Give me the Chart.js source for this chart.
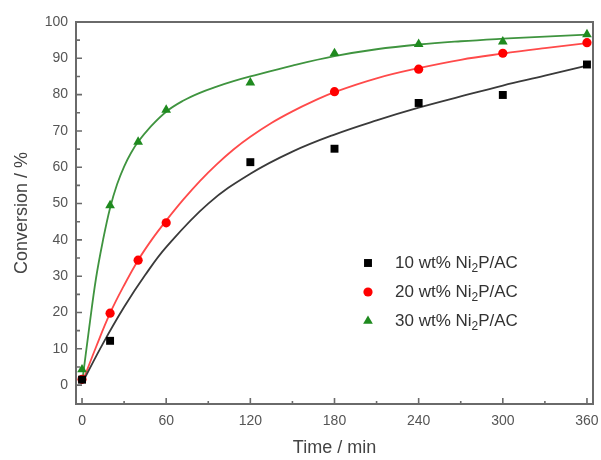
<!DOCTYPE html>
<html>
<head>
<meta charset="utf-8">
<script src="https://cdn.jsdelivr.net/npm/chart.js@4.4.1/dist/chart.umd.min.js"></script>
<style>
  html, body { margin: 0; padding: 0; background: #fff; }
  #wrap { width: 601px; height: 460px; }
</style>
</head>
<body>
<div id="wrap"><canvas id="conversionChart"></canvas></div>
<script>
// measured points (time in min, conversion in %)
const seriesLabels = ['10 wt% Ni₂P/AC', '20 wt% Ni₂P/AC', '30 wt% Ni₂P/AC'];
const t10 = [0, 20, 120, 180, 240, 300, 360];
const conv10 = [1.5, 12.2, 61.4, 65.1, 77.7, 79.9, 88.3];
const t20 = [0, 20, 40, 60, 180, 240, 300, 360];
const conv20 = [1.6, 19.8, 34.4, 44.7, 80.8, 87.0, 91.4, 94.3];
const t30 = [0, 20, 40, 60, 120, 180, 240, 300, 360];
const conv30 = [4.3, 49.5, 67.0, 75.8, 83.3, 91.4, 93.9, 94.6, 96.6];

// fitted curves
const fitT10 = [0, 15, 30, 45, 60, 90, 120, 150, 180, 210, 240, 270, 300, 330, 360];
const fit10 = [0.5, 11.5, 21.5, 30.3, 38, 50, 58.2, 64.3, 69, 72.9, 76.4, 79.5, 82.5, 85.2, 88];
const fitT20 = [0, 10, 20, 30, 40, 50, 60, 72, 84, 96, 108, 120, 135, 150, 165, 180, 210, 240, 270, 300, 330, 360];
const fit20 = [0.5, 10.5, 19.8, 27.5, 34.4, 40.2, 45.3, 51, 56.2, 60.8, 64.9, 68.4, 72.2, 75.4, 78.2, 80.7, 84.5, 87.3, 89.6, 91.3, 92.8, 94.2];
const fitT30 = [0, 5, 10, 15, 20, 25, 30, 35, 40, 48, 60, 72, 84, 96, 108, 120, 150, 180, 210, 240, 270, 300, 330, 360];
const fit30 = [0.5, 15.5, 29.5, 40, 48.8, 55.3, 60.2, 64, 67, 70.8, 75.3, 78.3, 80.5, 82.2, 83.7, 85, 88, 90.6, 92.5, 93.8, 94.7, 95.4, 96, 96.5];

const xTicks = [0, 60, 120, 180, 240, 300, 360];
const xMinorTicks = [30, 90, 150, 210, 270, 330];
const yTicks = [0, 10, 20, 30, 40, 50, 60, 70, 80, 90, 100];
const yMinorTicks = [5, 15, 25, 35, 45, 55, 65, 75, 85, 95];

const pointColors = ['#000000', '#ff0000', '#1f8a1f'];
const lineColors = ['#3a3a3a', '#ff4a4a', '#3f943f'];
const pointStyles = ['rect', 'circle', 'triangle'];
const pointSizes = [5.6, 4.6, 5.6];

const toXY = (xs, ys) => xs.map((x, i) => ({ x: x, y: ys[i] }));

const frameAndTicks = {
    id: 'frameAndTicks',
    beforeDatasetsDraw(chart) {
        const { ctx, chartArea: a, scales } = chart;
        ctx.save();
        ctx.strokeStyle = '#6a6a6a';
        ctx.lineWidth = 1.6;
        ctx.beginPath();
        xTicks.forEach(v => {
            const px = scales.x.getPixelForValue(v);
            ctx.moveTo(px, a.bottom); ctx.lineTo(px, a.bottom - 6);
        });
        xMinorTicks.forEach(v => {
            const px = scales.x.getPixelForValue(v);
            ctx.moveTo(px, a.bottom); ctx.lineTo(px, a.bottom - 3);
        });
        yTicks.forEach(v => {
            const py = scales.y.getPixelForValue(v);
            ctx.moveTo(a.left, py); ctx.lineTo(a.left + 6, py);
        });
        yMinorTicks.forEach(v => {
            const py = scales.y.getPixelForValue(v);
            ctx.moveTo(a.left, py); ctx.lineTo(a.left + 4, py);
        });
        ctx.stroke();
        ctx.lineWidth = 2;
        ctx.strokeRect(a.left, a.top, a.right - a.left, a.bottom - a.top);
        ctx.restore();
    }
};

function drawMarker(ctx, style, x, y, r, color) {
    ctx.fillStyle = color;
    ctx.beginPath();
    if (style === 'rect') {
        const s = r * Math.SQRT1_2;
        ctx.rect(x - s, y - s, 2 * s, 2 * s);
    } else if (style === 'circle') {
        ctx.arc(x, y, r, 0, Math.PI * 2);
    } else {
        const h = r * 1.5;
        const w = r * Math.sqrt(3) / 2;
        ctx.moveTo(x, y - r);
        ctx.lineTo(x + w, y + h - r);
        ctx.lineTo(x - w, y + h - r);
        ctx.closePath();
    }
    ctx.fill();
}

const insideLegend = {
    id: 'insideLegend',
    afterDraw(chart) {
        const { ctx, chartArea: a } = chart;
        const markerX = a.left + 292;
        const textX = a.left + 319;
        ctx.save();
        ctx.textBaseline = 'middle';
        seriesLabels.forEach((label, i) => {
            const y = a.top + 241 + i * 29;
            drawMarker(ctx, pointStyles[i], markerX, y, pointSizes[i], pointColors[i]);
            const parts = label.split('₂');
            ctx.fillStyle = '#333';
            ctx.font = '17px "Liberation Sans", Arial, sans-serif';
            ctx.fillText(parts[0], textX, y);
            let x = textX + ctx.measureText(parts[0]).width;
            ctx.font = '12px "Liberation Sans", Arial, sans-serif';
            ctx.fillText('2', x, y + 6);
            x += ctx.measureText('2').width;
            ctx.font = '17px "Liberation Sans", Arial, sans-serif';
            ctx.fillText(parts[1], x, y);
        });
        ctx.restore();
    }
};

Chart.defaults.font.family = '"Liberation Sans", Arial, sans-serif';
Chart.defaults.color = '#555';

const pointSets = [[t10, conv10], [t20, conv20], [t30, conv30]].map((d, i) => ({
    label: seriesLabels[i],
    data: toXY(d[0], d[1]),
    showLine: false,
    pointStyle: pointStyles[i],
    pointRadius: pointSizes[i],
    pointBackgroundColor: pointColors[i],
    pointBorderWidth: 0,
    borderColor: pointColors[i]
}));

const fitSets = [[fitT10, fit10], [fitT20, fit20], [fitT30, fit30]].map((d, i) => ({
    label: seriesLabels[i] + ' fit',
    data: toXY(d[0], d[1]),
    showLine: true,
    pointRadius: 0,
    borderColor: lineColors[i],
    borderWidth: 1.8,
    tension: 0.4
}));

new Chart(document.getElementById('conversionChart'), {
    type: 'scatter',
    data: { datasets: pointSets.concat(fitSets) },
    options: {
        responsive: true,
        maintainAspectRatio: false,
        animation: false,
        layout: { padding: { top: 22, right: 8, left: 0, bottom: 0 } },
        plugins: {
            legend: { display: false },
            tooltip: { enabled: false }
        },
        scales: {
            x: {
                type: 'linear',
                min: -4.3,
                max: 364.3,
                afterBuildTicks: scale => { scale.ticks = xTicks.map(v => ({ value: v })); },
                afterFit: scale => {
                    scale.height = 56;
                    scale.paddingLeft = 0;
                    scale.paddingRight = 0;
                },
                grid: { display: false, drawTicks: false },
                border: { display: false },
                ticks: { font: { size: 14 }, padding: 9, maxRotation: 0, autoSkip: false },
                title: {
                    display: true,
                    text: 'Time / min',
                    color: '#444',
                    font: { size: 18 },
                    padding: { top: 0, bottom: 1 }
                }
            },
            y: {
                type: 'linear',
                min: -5.2,
                max: 100,
                afterBuildTicks: scale => { scale.ticks = yTicks.map(v => ({ value: v })); },
                afterFit: scale => {
                    scale.width = 76;
                    scale.paddingTop = 0;
                    scale.paddingBottom = 0;
                },
                grid: { display: false, drawTicks: false },
                border: { display: false },
                ticks: { font: { size: 14 }, padding: 8, autoSkip: false },
                title: {
                    display: true,
                    text: 'Conversion / %',
                    color: '#444',
                    font: { size: 18 },
                    padding: { top: 11, bottom: 0 }
                }
            }
        }
    },
    plugins: [frameAndTicks, insideLegend]
});
</script>
</body>
</html>
